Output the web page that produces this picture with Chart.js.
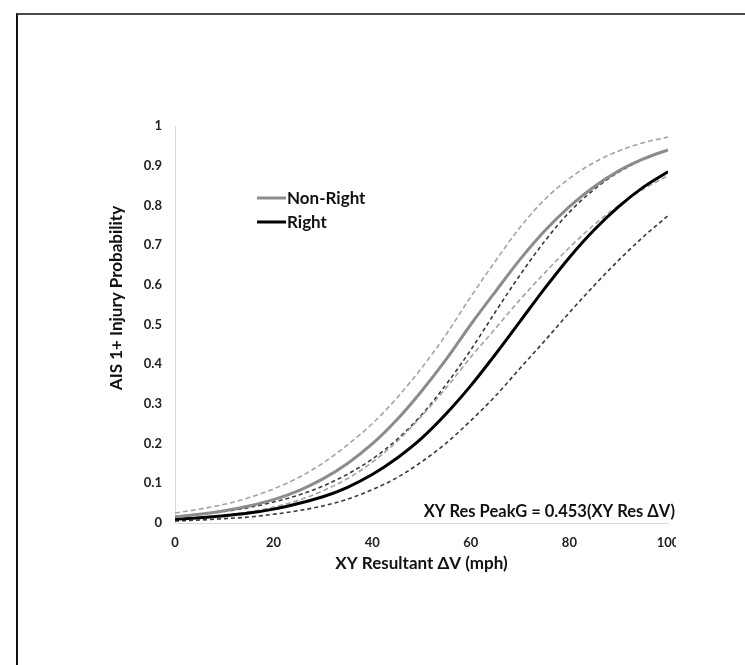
<!DOCTYPE html>
<html>
<head>
<meta charset="utf-8">
<script src="https://cdn.jsdelivr.net/npm/chart.js@4.4.0/dist/chart.umd.min.js"></script>
<style>
  html, body { margin: 0; padding: 0; background: #ffffff; }
  #wrap { position: relative; width: 745px; height: 665px; overflow: hidden; }
  #frame { position: absolute; left: 16px; top: 13px; width: 800px; height: 700px;
           border-top: 2px solid #4a4a4a; border-left: 2px solid #111111; box-sizing: border-box; }
  #c { position: absolute; left: 0; top: 0; }
</style>
</head>
<body>
<div id="wrap">
  <div id="frame"></div>
  <canvas id="c" width="676" height="665"></canvas>
</div>
<script>
// XY resultant delta-V (mph)
const deltaV = [0, 5, 10, 15, 20, 25, 30, 35, 40, 45, 50, 55, 60, 65, 70, 75, 80, 85, 90, 95, 100];

// Non-right impacts: fitted probability and 95% bounds
const nonRight      = [0.016, 0.022, 0.031, 0.043, 0.059, 0.081, 0.111, 0.150, 0.199, 0.260, 0.332, 0.412, 0.500, 0.583, 0.664, 0.736, 0.797, 0.847, 0.887, 0.917, 0.940];
const nonRightUpper = [0.025, 0.035, 0.047, 0.064, 0.086, 0.114, 0.151, 0.197, 0.250, 0.315, 0.390, 0.475, 0.570, 0.660, 0.745, 0.815, 0.868, 0.908, 0.937, 0.958, 0.972];
const nonRightLower = [0.010, 0.014, 0.020, 0.028, 0.040, 0.057, 0.081, 0.112, 0.153, 0.205, 0.269, 0.340, 0.418, 0.490, 0.563, 0.630, 0.694, 0.751, 0.800, 0.841, 0.875];

// Right impacts: fitted probability and 95% bounds
const right      = [0.0095, 0.013, 0.018, 0.025, 0.035, 0.049, 0.066, 0.090, 0.122, 0.163, 0.213, 0.275, 0.346, 0.425, 0.508, 0.591, 0.669, 0.738, 0.797, 0.846, 0.885];
const rightUpper = [0.016, 0.022, 0.029, 0.039, 0.053, 0.070, 0.093, 0.123, 0.161, 0.210, 0.272, 0.349, 0.436, 0.532, 0.625, 0.710, 0.783, 0.840, 0.884, 0.916, 0.940];
const rightLower = [0.005, 0.0075, 0.011, 0.015, 0.022, 0.031, 0.043, 0.060, 0.084, 0.114, 0.154, 0.201, 0.258, 0.320, 0.390, 0.459, 0.530, 0.598, 0.662, 0.721, 0.774];

// Axis ticks
const xTicks = [0, 20, 40, 60, 80, 100];
const yTicks = [0, 0.1, 0.2, 0.3, 0.4, 0.5, 0.6, 0.7, 0.8, 0.9, 1];

const xTitle = 'XY Resultant ΔV (mph)';
const yTitle = 'AIS 1+ Injury Probability';
const equation = 'XY Res PeakG = 0.453(XY Res ΔV)';
const legendItems = ['Non-Right', 'Right'];

const FONT = 'Lato, "Open Sans", sans-serif';
const GRAY = '#8c8c8c';
const GRAY_DASH = '#a3a3a3';
const BLACK = '#000000';
const BLACK_DASH = '#3a3a3a';

const pts = ys => deltaV.map((x, i) => ({ x: x, y: ys[i] }));

function series(label, ys, color, width, dash) {
  return {
    label: label,
    data: pts(ys),
    borderColor: color,
    backgroundColor: color,
    borderWidth: width,
    borderDash: dash,
    pointRadius: 0,
    fill: false,
    cubicInterpolationMode: 'monotone'
  };
}

// Legend, rotated y title and equation text
const decorations = {
  id: 'decorations',
  afterDraw(chart) {
    const { ctx, chartArea, scales } = chart;
    ctx.save();
    // legend (solid curves only)
    ctx.font = 'bold 17px ' + FONT;
    ctx.textBaseline = 'middle';
    ctx.textAlign = 'left';
    const lx = 257, ly = [198, 222];
    legendItems.forEach((name, i) => {
      const ds = chart.data.datasets[i];
      ctx.strokeStyle = ds.borderColor;
      ctx.lineWidth = 3;
      ctx.setLineDash([]);
      ctx.beginPath();
      ctx.moveTo(lx, ly[i]);
      ctx.lineTo(lx + 29, ly[i]);
      ctx.stroke();
      ctx.fillStyle = '#111111';
      ctx.fillText(name, lx + 30, ly[i] + 1);
    });
    // y axis title
    ctx.translate(117, 298);
    ctx.rotate(-Math.PI / 2);
    ctx.textAlign = 'center';
    ctx.font = 'bold 17px ' + FONT;
    ctx.fillText(yTitle, 0, 0);
    ctx.restore();
    // equation
    ctx.save();
    ctx.font = 'bold 16.5px ' + FONT;
    ctx.fillStyle = '#111111';
    ctx.textAlign = 'right';
    ctx.textBaseline = 'middle';
    ctx.fillText(equation, chartArea.right + 7, scales.y.getPixelForValue(0) - 11);
    ctx.restore();
  }
};

new Chart(document.getElementById('c'), {
  type: 'line',
  data: {
    datasets: [
      series('Non-Right', nonRight, GRAY, 3, []),
      series('Right', right, BLACK, 3, []),
      series('Non-Right upper', nonRightUpper, GRAY_DASH, 1.6, [5, 3]),
      series('Non-Right lower', nonRightLower, GRAY_DASH, 1.6, [5, 3]),
      series('Right upper', rightUpper, BLACK_DASH, 1.6, [4, 3]),
      series('Right lower', rightLower, BLACK_DASH, 1.6, [4, 3])
    ]
  },
  options: {
    responsive: false,
    animation: false,
    layout: { padding: { top: 126, right: 8, left: 0, bottom: 0 } },
    plugins: {
      legend: { display: false },
      tooltip: { enabled: false }
    },
    scales: {
      x: {
        type: 'linear',
        min: 0, max: 100,
        afterBuildTicks: s => { s.ticks = xTicks.map(v => ({ value: v })); },
        afterFit: s => { s.height = 142; s.paddingLeft = 0; s.paddingRight = 0; },
        grid: { display: false, drawTicks: false },
        border: { display: true, color: '#d9d9d9', width: 1 },
        ticks: {
          padding: 12,
          color: '#222222',
          maxRotation: 0,
          font: { family: FONT, size: 13, weight: 'bold' },
          callback: v => String(v)
        },
        title: {
          display: true,
          text: xTitle,
          color: '#111111',
          font: { family: FONT, size: 17, weight: 'bold' },
          padding: { top: 0, bottom: 91 }
        }
      },
      y: {
        type: 'linear',
        min: 0, max: 1,
        afterBuildTicks: s => { s.ticks = yTicks.map(v => ({ value: v })); },
        afterFit: s => { s.width = 175; s.paddingTop = 0; s.paddingBottom = 0; },
        grid: { display: false, drawTicks: false },
        border: { display: true, color: '#d9d9d9', width: 1 },
        ticks: {
          padding: 13,
          color: '#222222',
          font: { family: FONT, size: 13, weight: 'bold' },
          callback: v => String(Math.round(v * 10) / 10)
        }
      }
    }
  },
  plugins: [decorations]
});
</script>
</body>
</html>
